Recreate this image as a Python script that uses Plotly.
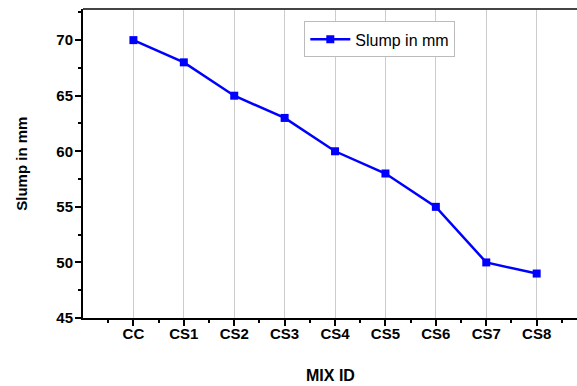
import plotly.graph_objects as go

categories = ["CC", "CS1", "CS2", "CS3", "CS4", "CS5", "CS6", "CS7", "CS8"]
slump = [70, 68, 65, 63, 60, 58, 55, 50, 49]
y_ticks = [45, 50, 55, 60, 65, 70]
positions = list(range(len(categories)))

fig = go.Figure()
fig.add_trace(go.Scatter(
    x=positions, y=slump, mode="lines+markers", name="Slump in mm",
    line=dict(color="#0000FF", width=2.5),
    marker=dict(symbol="square", size=8, color="#0000FF"),
))

font_ax = dict(family="Liberation Sans, Arial", size=15, color="black")
fig.update_layout(
    width=577, height=386,
    margin=dict(l=83, r=0, t=9, b=68, autoexpand=False),
    paper_bgcolor="white", plot_bgcolor="white",
    font=dict(family="Liberation Sans, Arial", color="black"),
    showlegend=True,
    legend=dict(x=0.448, y=0.96, xanchor="left", yanchor="top",
                bgcolor="white", bordercolor="#BBBBBB", borderwidth=1,
                font=dict(size=16, family="Liberation Sans, Arial"),
                itemwidth=40),
    xaxis=dict(
        range=[-1, 8.8], tickmode="array", tickvals=positions,
        ticktext=["<b>%s</b>" % c for c in categories],
        tickfont=font_ax, ticks="outside", ticklen=6, tickwidth=1.5,
        tickcolor="black", automargin=False, ticklabelstandoff=-5,
        showline=True, linecolor="black", linewidth=2, mirror=False,
        showgrid=True, gridcolor="#CCCCCC", gridwidth=1, zeroline=False,
        minor=dict(tickmode="linear", tick0=-0.5, dtick=1, ticks="outside",
                   ticklen=3, tickwidth=1.5, tickcolor="black", showgrid=False),
    ),
    yaxis=dict(
        range=[45, 72.8], tickmode="array", tickvals=y_ticks,
        ticktext=["<b>%d</b>" % v for v in y_ticks],
        tickfont=font_ax, ticks="outside", ticklen=6, tickwidth=1.5,
        tickcolor="black", automargin=False, ticklabelstandoff=-1,
        showline=True, linecolor="black", linewidth=2,
        showgrid=False, zeroline=False,
        minor=dict(tickmode="linear", tick0=47.5, dtick=5, ticks="outside", ticklen=3,
                   tickwidth=1.5, tickcolor="black", showgrid=False),
    ),
    annotations=[
        dict(text="<b>MIX ID</b>", xref="paper", yref="paper", x=0.5, y=-0.185,
             xanchor="center", yanchor="middle", showarrow=False,
             font=dict(size=16)),
        dict(text="<b>Slump in mm</b>", xref="paper", yref="paper", x=-0.125, y=0.5,
             xanchor="center", yanchor="middle", showarrow=False, textangle=-90,
             font=dict(size=15)),
    ],
)
fig.add_shape(type="line", xref="paper", yref="paper", x0=0, x1=1, y0=1, y1=1,
              line=dict(color="#444444", width=2))
fig.write_html("out.html", config={"displayModeBar": False},
               post_script="document.body.style.margin='0';")
